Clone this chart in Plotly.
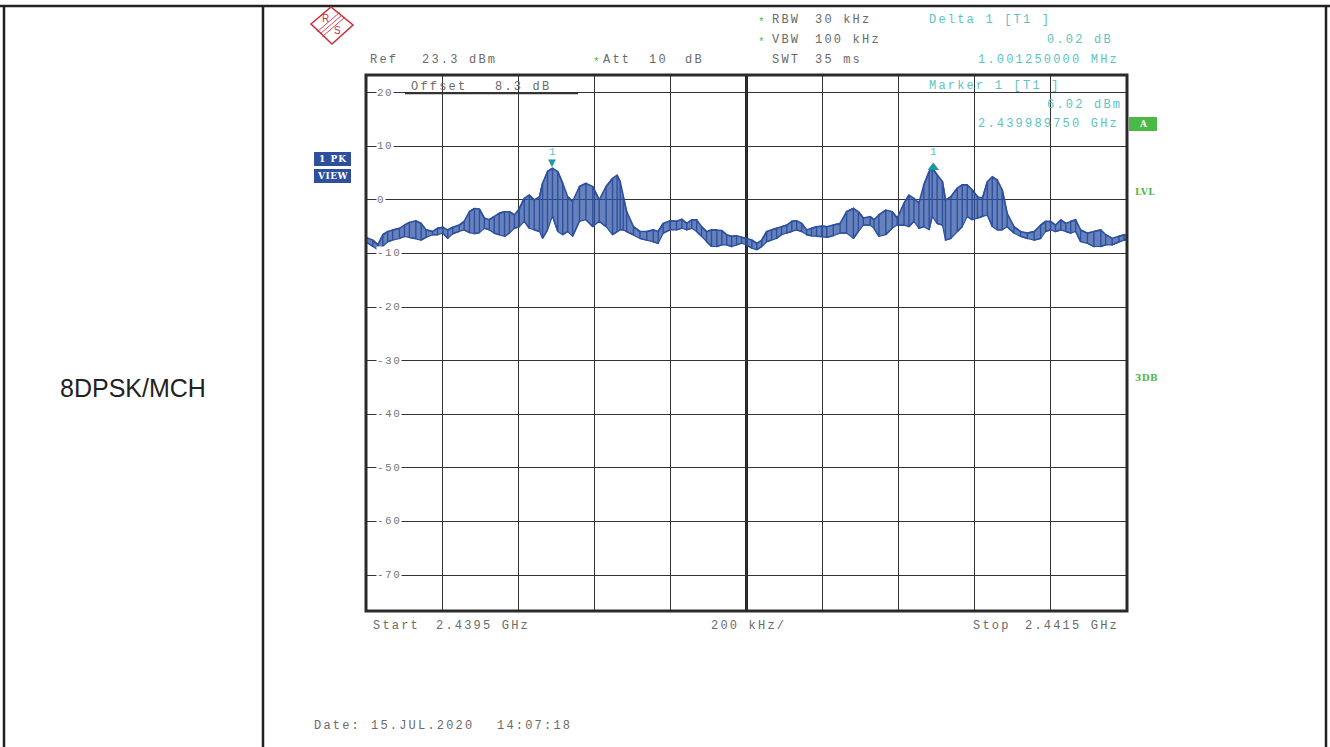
import plotly.graph_objects as go

# ---------------- data ----------------
START_GHZ = 2.4395
STOP_GHZ = 2.4415
SPAN_KHZ = 2000
X_GRID_KHZ = [0, 200, 400, 600, 800, 1000, 1200, 1400, 1600, 1800, 2000]
Y_TICKS = [20, 10, 0, -10, -20, -30, -40, -50, -60, -70]
REF_DBM = 23.3
Y_BOTTOM = REF_DBM - 100

# frequency offset from start (kHz), upper / lower envelope of the peak trace (dBm)
FREQ_KHZ = [0, 18, 31, 44, 57, 70, 88, 101, 114, 131, 145, 158, 175, 188, 202, 215, 228, 245,
            258, 272, 285, 298, 311, 324, 337, 350, 364, 377, 390, 403, 416, 429, 442, 456,
            464, 477, 490, 504, 517, 530, 543, 561, 578, 596, 613, 631, 648, 660, 668,
            676, 685, 703, 720, 738, 755, 768, 781, 799, 816, 830, 843, 856, 869, 882, 895,
            908, 922, 935, 948, 961, 974, 987, 1000, 1014, 1027, 1040, 1053, 1066, 1079,
            1092, 1106, 1119, 1132, 1145, 1158, 1171, 1184, 1198, 1211, 1228, 1246, 1263,
            1281, 1294, 1307, 1325, 1335, 1348, 1366, 1383, 1396, 1414, 1427, 1440, 1453,
            1466, 1480, 1488, 1501, 1515, 1523, 1537, 1554, 1567, 1580, 1593, 1607, 1620,
            1633, 1646, 1659, 1672, 1685, 1703, 1720, 1738, 1756, 1773, 1786, 1799, 1812,
            1826, 1839, 1852, 1865, 1878, 1896, 1913, 1931, 1944, 1961, 1979, 1992, 2000]
TOP_DBM = [-7.0, -7.5, -8.4, -6.5, -5.9, -5.6, -5.3, -4.7, -4.2, -3.9, -4.4, -5.6, -5.9, -5.3,
           -5.1, -5.6, -5.1, -4.7, -4.0, -2.2, -1.6, -1.7, -3.4, -3.7, -3.1, -2.5, -2.2, -2.2,
           -2.8, -1.6, 0.3, 0.9, 0.0, 0.6, 3.1, 5.3, 5.9, 5.3, 3.1, 0.6, -0.3, 2.5, 3.1, 2.5,
           0.0, 2.5, 4.0, 4.6, 3.4, 0.6, -2.2, -5.0, -5.9, -5.9, -5.6, -5.9, -4.4, -3.9, -4.0,
           -3.6, -4.4, -3.7, -3.7, -5.0, -5.9, -5.6, -5.6, -5.7, -6.5, -6.8, -6.7, -7.0, -7.2,
           -7.5, -8.1, -7.5, -5.9, -5.6, -5.3, -5.0, -4.7, -4.0, -3.9, -4.4, -5.6, -5.3, -5.0,
           -4.9, -5.0, -4.7, -4.4, -2.2, -1.6, -2.2, -3.4, -3.1, -3.7, -2.8, -1.9, -2.2, -3.4,
           -0.6, 0.9, 0.3, -0.6, 2.8, 5.3, 5.9, 4.7, 3.4, 0.0, 0.6, 2.2, 2.8, 2.8, 1.9, 0.6,
           0.3, 3.4, 4.3, 3.7, 1.9, -2.5, -5.0, -5.9, -6.2, -5.9, -4.7, -4.0, -4.0, -4.7, -3.7,
           -4.4, -4.0, -3.7, -5.6, -6.2, -5.9, -5.6, -6.5, -7.2, -6.8, -6.5, -6.6]
BOT_DBM = [-7.8, -8.7, -9.3, -8.7, -7.8, -7.5, -7.2, -6.8, -7.0, -7.2, -7.5, -7.0, -6.5, -6.5,
           -6.2, -7.2, -6.3, -5.9, -5.6, -6.1, -6.3, -6.1, -5.3, -5.6, -6.2, -6.5, -6.8, -6.2,
           -5.3, -5.0, -4.0, -5.3, -5.6, -5.9, -7.2, -5.6, -3.0, -5.9, -6.5, -5.9, -6.8, -4.0,
           -3.7, -5.0, -4.0, -5.0, -6.5, -5.9, -5.6, -5.6, -5.9, -6.5, -7.2, -7.5, -7.8, -8.1,
           -6.2, -5.6, -5.6, -5.3, -5.6, -5.3, -5.9, -6.8, -7.8, -8.7, -8.7, -8.4, -8.4, -8.7,
           -8.4, -8.1, -8.4, -9.0, -9.3, -8.7, -7.8, -7.5, -7.2, -6.5, -6.2, -5.9, -5.6, -5.9,
           -6.5, -6.7, -6.8, -6.8, -7.0, -6.7, -6.2, -6.2, -7.2, -5.9, -4.7, -4.7, -5.3, -6.8,
           -6.5, -5.3, -4.7, -4.7, -5.0, -4.0, -5.3, -5.0, -5.6, -3.1, -4.4, -4.7, -7.5, -7.2,
           -5.9, -5.0, -3.1, -3.7, -3.4, -3.1, -2.8, -5.0, -5.6, -5.6, -5.0, -6.2, -6.8, -7.2,
           -7.5, -7.2, -5.9, -5.6, -5.9, -5.6, -5.9, -6.2, -5.9, -7.8, -8.1, -8.7, -8.7, -8.4,
           -8.4, -7.8, -7.5, -7.4]

MARKER_KHZ = 489.75          # Marker 1 [T1] 2.439989750 GHz
MARKER_DBM = 6.02
DELTA_KHZ = 489.75 + 1001.25  # Delta 1 [T1] +1.001250000 MHz
DELTA_DB = 0.02

# ---------------- styling ----------------
W, H = 1330, 747
MONO = "Liberation Mono"
GRAY = "#6a6a6a"
CYAN = "#5cc3c3"
GREEN = "#4cb848"
BLUE = "rgb(45,80,160)"
RED = "#c8323c"


def px(x):
    return x / W


def py(y):
    return 1 - y / H


fig = go.Figure()

# filled band between envelopes
fig.add_trace(go.Scatter(x=FREQ_KHZ, y=BOT_DBM, mode="lines", line=dict(width=1.2, color=BLUE),
                         hoverinfo="skip", showlegend=False))
fig.add_trace(go.Scatter(x=FREQ_KHZ, y=TOP_DBM, mode="lines", line=dict(width=1.6, color=BLUE),
                         fill="tonexty", fillcolor="rgba(45,80,160,0.72)", hoverinfo="skip",
                         showlegend=False))

# dense peak-detector look: vertical strokes between envelopes
zx, zy = [], []
for i, (f, t, b) in enumerate(zip(FREQ_KHZ, TOP_DBM, BOT_DBM)):
    zx += [f, f]
    zy += [t, b] if i % 2 == 0 else [b, t]
fig.add_trace(go.Scatter(x=zx, y=zy, mode="lines", line=dict(width=1.4, color=BLUE),
                         hoverinfo="skip", showlegend=False))

# delta marker triangle (up)
fig.add_trace(go.Scatter(x=[DELTA_KHZ], y=[MARKER_DBM + DELTA_DB], mode="markers",
                         marker=dict(symbol="triangle-up", size=10, color="#1a9a9a"),
                         hoverinfo="skip", showlegend=False))

fig.update_layout(
    width=W, height=H, margin=dict(l=0, r=0, t=0, b=0),
    paper_bgcolor="white", plot_bgcolor="white", showlegend=False,
    xaxis=dict(domain=[px(366), px(1127)], range=[0, SPAN_KHZ], tickvals=X_GRID_KHZ,
               showticklabels=False, ticks="", showgrid=True, gridcolor="#333333",
               gridwidth=1.4, zeroline=False, showline=False, fixedrange=True),
    yaxis=dict(domain=[py(611), py(75)], range=[Y_BOTTOM, REF_DBM], tickvals=Y_TICKS,
               showticklabels=False, ticks="", showgrid=True, gridcolor="#333333",
               gridwidth=1.4, zeroline=False, showline=False, fixedrange=True),
)

shapes = []


def pline(x0, y0, x1, y1, w=2.5, c="#222222", layer="above"):
    shapes.append(dict(type="line", xref="paper", yref="paper", x0=px(x0), y0=py(y0),
                       x1=px(x1), y1=py(y1), line=dict(width=w, color=c), layer=layer))


# table frame
pline(0, 6, 1330, 6)
pline(4, 6, 4, 747)
pline(263, 6, 263, 747)
pline(1326, 6, 1326, 747)

# centre division line (thicker)
shapes.append(dict(type="line", xref="x", yref="y domain", x0=SPAN_KHZ / 2, x1=SPAN_KHZ / 2,
                   y0=0, y1=1, line=dict(width=3, color="#222222"), layer="below"))
# plot frame
shapes.append(dict(type="rect", xref="x domain", yref="y domain", x0=0, x1=1, y0=0, y1=1,
                   line=dict(width=3, color="#2a2a2a"), layer="above"))
# offset underline
pline(405, 93.5, 578, 93.5, w=1.6, c="#333333")

# R&S logo
shapes.append(dict(type="path", xref="paper", yref="paper",
                   path="M {},{} L {},{} L {},{} L {},{} Z".format(
                       px(311), py(24), px(331), py(7), px(353), py(25), px(332), py(44)),
                   line=dict(width=1.6, color=RED)))
for d in (-2.5, 0, 2.5):
    pline(320 + d, 34 + d, 342 + d, 15 + d, w=0.9, c=RED)

# coloured boxes
def pbox(x0, y0, x1, y1, c):
    shapes.append(dict(type="rect", xref="paper", yref="paper", x0=px(x0), y0=py(y0),
                       x1=px(x1), y1=py(y1), line=dict(width=0), fillcolor=c))


pbox(314, 152, 351, 166, "#2d4f9e")
pbox(314, 169, 351, 183, "#2d4f9e")
pbox(1129, 117, 1157, 131, GREEN)

fig.update_layout(shapes=shapes)

ann = []


def txt(x, y, s, color=GRAY, size=12, anchor="left", font=MONO, ls=2.2, bg=None, bold=False):
    s = s.replace(" ", "\u00a0")
    if bold:
        s = "<b>" + s + "</b>"
    if ls:
        s = '<span style="letter-spacing:{}px">{}</span>'.format(ls, s)
    d = dict(x=px(x), y=py(y), xref="paper", yref="paper", text=s, showarrow=False,
             xanchor=anchor, yanchor="middle", font=dict(family=font, size=size, color=color))
    if bg:
        d.update(bgcolor=bg, borderpad=0)
    ann.append(d)


def star(x, y):
    txt(x, y + 1, "*", color=GREEN, size=11, anchor="center", ls=0)


# header rows
star(762, 21)
txt(770, 20, "RBW")
txt(813, 20, "30 kHz")
txt(927, 20, "Delta 1 [T1 ]", color=CYAN)
star(762, 41)
txt(770, 40, "VBW")
txt(813, 40, "100 kHz")
txt(1045, 40, "0.02 dB", color=CYAN)
txt(368, 60, "Ref")
txt(420, 60, "23.3 dBm")
star(596, 61)
txt(601, 60, "Att")
txt(647, 60, "10")
txt(683, 60, "dB")
txt(770, 60, "SWT")
txt(813, 60, "35 ms")
txt(976, 60, "1.001250000 MHz", color=CYAN)
# marker box in plot
txt(927, 86, "Marker 1 [T1 ]", color=CYAN)
txt(1045, 105, "6.02 dBm", color=CYAN)
txt(976, 124, "2.439989750 GHz", color=CYAN)
txt(409, 87, "Offset")
txt(493, 87, "8.3 dB")
# bottom
txt(371, 626, "Start")
txt(434, 626, "2.4395 GHz")
txt(709, 626, "200 kHz/")
txt(971, 626, "Stop")
txt(1023, 626, "2.4415 GHz")
txt(312, 726, "Date:")
txt(369, 726, "15.JUL.2020")
txt(495, 726, "14:07:18")

# y tick labels sitting on the grid lines
for v in Y_TICKS:
    ann.append(dict(x=0, xref="x domain", xshift=10, y=v, yref="y",
                    text='<span style="letter-spacing:1.5px">{}</span>'.format(v),
                    showarrow=False, xanchor="left", yanchor="middle", bgcolor="white",
                    borderpad=0, font=dict(family=MONO, size=11, color="#777777")))

# markers
for xk, yv, lab_shift in ((MARKER_KHZ, MARKER_DBM, 16), (DELTA_KHZ, MARKER_DBM + DELTA_DB, 16)):
    ann.append(dict(x=xk, y=yv, xref="x", yref="y", yshift=lab_shift, text="1",
                    showarrow=False, xanchor="center", yanchor="middle",
                    font=dict(family=MONO, size=11, color=CYAN)))
ann.append(dict(x=MARKER_KHZ, y=MARKER_DBM, xref="x", yref="y", yshift=5, text="\u25BC",
                showarrow=False, xanchor="center", yanchor="middle",
                font=dict(family="DejaVu Sans", size=10, color="#1a9a9a")))

# side labels
txt(332.5, 159, "1 PK", color="white", size=9, anchor="center", font="DejaVu Serif", ls=1, bold=True)
txt(332.5, 176, "VIEW", color="white", size=9, anchor="center", font="DejaVu Serif", ls=0.5, bold=True)
txt(1143, 124, "A", color="white", size=9, anchor="center", font="DejaVu Serif", ls=0, bold=True)
txt(1133, 192, "LVL", color=GREEN, size=9, font="DejaVu Serif", ls=0.5, bold=True)
txt(1133, 378, "3DB", color=GREEN, size=9, font="DejaVu Serif", ls=0.5, bold=True)

# R&S letters
txt(325, 19, "R", color=RED, size=10, anchor="center", font="Liberation Sans", ls=0)
txt(337, 31, "S", color=RED, size=10, anchor="center", font="Liberation Sans", ls=0)

# row label
txt(133, 388, "8DPSK/MCH", color="#222222", size=25, anchor="center", font="Liberation Sans", ls=0)

fig.update_layout(annotations=ann)
fig.write_html("out.html", config={"displayModeBar": False},
               post_script="document.body.style.margin='0px';document.body.style.overflow='hidden';")
